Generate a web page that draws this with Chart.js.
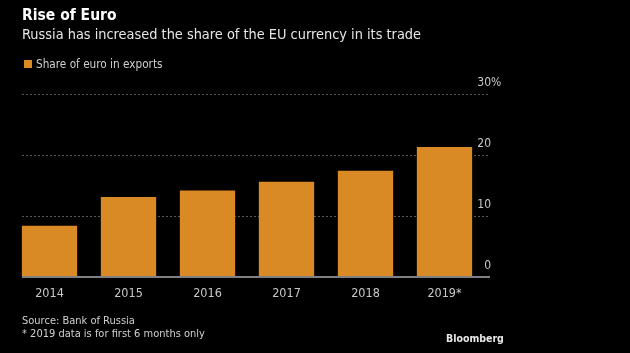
<!DOCTYPE html>
<html>
<head>
<meta charset="utf-8">
<script src="https://cdn.jsdelivr.net/npm/chart.js@4"></script>
<style>
  html, body { margin: 0; padding: 0; background: #000; }
  #wrap { position: relative; width: 630px; height: 353px; background: #000; overflow: hidden;
          font-family: "DejaVu Sans Condensed", "Liberation Sans", sans-serif; }
  #chart { position: absolute; left: 0; top: 0; }
  .txt { position: absolute; white-space: nowrap; line-height: 1; }
  #title { left: 22px; top: 8px; font-size: 15.5px; font-weight: bold; color: #fff; }
  #subtitle { left: 22px; top: 27px; font-size: 14.4px; color: #e6e6e6; }
  #legend { left: 24px; top: 59px; font-size: 11.7px; color: #cfcfcf; }
  #legend span.sw { display: inline-block; width: 8px; height: 8px; background: #d98a24; margin-right: 4px; vertical-align: 0px; }
  #source { left: 22px; top: 314px; font-size: 11px; color: #d0d0d0; line-height: 13px; }
  #brand { left: 446px; top: 333px; font-size: 10.5px; font-weight: bold; color: #e8e8e8; }
</style>
</head>
<body>
<div id="wrap">
  <canvas id="chart" width="630" height="353"></canvas>
  <div class="txt" id="title">Rise of Euro</div>
  <div class="txt" id="subtitle">Russia has increased the share of the EU currency in its trade</div>
  <div class="txt" id="legend"><span class="sw"></span>Share of euro in exports</div>
  <div class="txt" id="source">Source: Bank of Russia<br>* 2019 data is for first 6 months only</div>
  <div class="txt" id="brand">Bloomberg</div>
</div>
<script>
// data
const years = ['2014', '2015', '2016', '2017', '2018', '2019*'];
const euroShare = [8.4, 13.1, 14.2, 15.6, 17.4, 21.3];
const yTicks = [0, 10, 20, 30];

const barColor = '#d98a24';
const gridLeft = 22;
const gridRight = 490;
const fontFamily = '"DejaVu Sans Condensed", "Liberation Sans", sans-serif';

// dotted grid lines, baseline and right-hand labels, drawn from the y scale
const gridPlugin = {
    id: 'bbgGrid',
    beforeDatasetsDraw(chart) {
        const ctx = chart.ctx;
        const y = chart.scales.y;
        ctx.save();
        ctx.strokeStyle = '#5a5a5a';
        ctx.lineWidth = 1;
        ctx.setLineDash([2, 2]);
        yTicks.forEach(v => {
            if (v === 0) return;
            const py = Math.round(y.getPixelForValue(v)) + 0.5;
            ctx.beginPath();
            ctx.moveTo(gridLeft, py);
            ctx.lineTo(gridRight, py);
            ctx.stroke();
        });
        ctx.restore();
    },
    afterDatasetsDraw(chart) {
        const ctx = chart.ctx;
        const y = chart.scales.y;
        ctx.save();
        // baseline
        const py0 = y.getPixelForValue(0);
        ctx.strokeStyle = '#808080';
        ctx.lineWidth = 2;
        ctx.beginPath();
        ctx.moveTo(gridLeft, py0);
        ctx.lineTo(gridRight, py0);
        ctx.stroke();
        // tick labels sit above their lines, right aligned
        ctx.font = '12px ' + fontFamily;
        ctx.fillStyle = '#c8c8c8';
        ctx.textBaseline = 'alphabetic';
        yTicks.forEach(v => {
            const py = y.getPixelForValue(v) - 8;
            ctx.textAlign = 'right';
            ctx.fillText(String(v), gridRight + 1, py);
            if (v === yTicks[yTicks.length - 1]) {
                ctx.textAlign = 'left';
                ctx.fillText('%', gridRight + 1, py);
            }
        });
        ctx.restore();
    }
};

const ctx = document.getElementById('chart').getContext('2d');
new Chart(ctx, {
    type: 'bar',
    data: {
        labels: years,
        datasets: [{
            label: 'Share of euro in exports',
            data: euroShare,
            backgroundColor: barColor,
            borderWidth: 0,
            barPercentage: 0.7,
            categoryPercentage: 1.0
        }]
    },
    options: {
        responsive: false,
        animation: false,
        layout: {
            padding: { top: 94, left: 10, right: 146, bottom: 0 }
        },
        scales: {
            x: {
                grid: { display: false, drawTicks: false },
                border: { display: false },
                ticks: {
                    color: '#c8c8c8',
                    padding: 9,
                    font: { family: fontFamily, size: 12.5 }
                },
                afterFit(scale) { scale.height = 76; }
            },
            y: {
                display: false,
                min: 0,
                max: 30
            }
        },
        plugins: {
            legend: { display: false },
            tooltip: { enabled: false }
        }
    },
    plugins: [gridPlugin]
});
</script>
</body>
</html>
